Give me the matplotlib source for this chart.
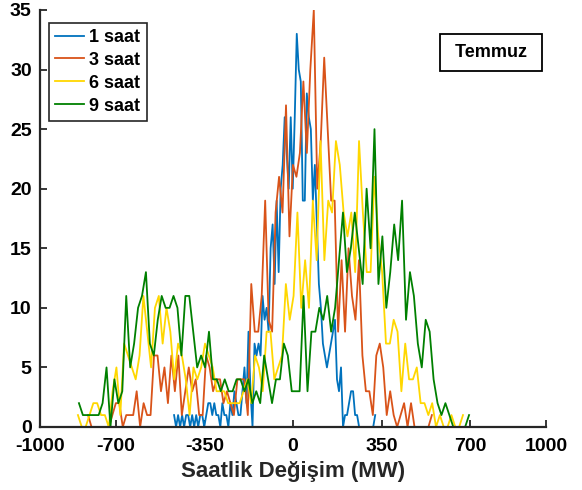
import numpy as np
import matplotlib
matplotlib.use("Agg")
from matplotlib import pyplot as plt

plt.rcParams['font.family'] = ['Liberation Sans', 'DejaVu Sans']
plt.rcParams['font.weight'] = 'bold'
plt.rcParams['axes.unicode_minus'] = False

# Saatlik değişim histogramları (Temmuz), her seri kendi aralığında eşit bölmeli
aralik_1 = (-470, 325)
saat_1 = [1, 0, 1, 0, 1, 0, 1, 1, 0, 1, 0, 1, 0, 1, 1, 0,
          1, 2, 2, 1, 2, 1, 1, 0, 2, 1, 1, 0, 2, 1, 3, 2, 1,
          1, 3, 5, 2, 8, 3, 0, 7, 6, 7, 6, 11, 9, 10, 8, 15, 17, 12, 19, 13,
          20, 22, 26, 23, 20, 26, 20, 26, 33, 30, 29, 19, 19, 28, 26, 25, 19,
          22, 17, 12, 10, 7, 6, 5, 6, 7, 8, 9, 4, 3, 5, 0, 1, 1, 2, 3, 3, 1,
          1, 0, 0, 0, 0, 0, 0, 0, 0, 1]

aralik_3 = (-810, 549)
saat_3 = [1, 0, 0, 0, 0, 0, 0, 1, 2, 2, 0, 1, 1, 1, 3, 0, 2, 1, 1, 6, 6,
          3, 5, 2, 6, 3, 6, 1, 3, 5, 3, 4, 1, 1, 6, 5, 3, 4, 4, 2, 3, 2,
          1, 4, 4, 4, 1, 12, 8, 8, 11, 19, 9, 8, 18, 21, 18, 27, 16, 22,
          21, 23, 29, 23, 30, 35, 20, 24, 31, 25, 19, 19, 8, 14, 8, 15, 11,
          9, 14, 6, 3, 3, 1, 6, 7, 5, 1, 3, 1, 0, 1, 2, 0, 2, 0, 0, 0, 0,
          0, 1]

aralik_6 = (-850, 672)
saat_6 = [1, 0, 0, 1, 2, 2, 1, 1, 0, 3, 5, 1, 7, 6, 5, 4, 6, 11, 8, 5,
          10, 11, 7, 10, 8, 4, 7, 6, 4, 1, 5, 4, 5, 7, 6, 5, 3, 3, 3, 2,
          2, 2, 2, 3, 4, 2, 6, 5, 3, 8, 8, 4, 5, 6, 12, 9, 11, 18, 10, 14,
          10, 19, 14, 24, 14, 19, 18, 24, 22, 18, 16, 18, 13, 24, 18, 13,
          13, 21, 16, 13, 7, 7, 9, 8, 3, 7, 4, 4, 5, 2, 2, 1, 2, 0, 1, 0,
          0, 1, 0, 0, 1]

aralik_9 = (-846, 696)
saat_9 = [2, 1, 1, 1, 1, 1, 2, 5, 0, 4, 2, 3, 11, 5, 7, 10, 11, 13, 7,
          6, 9, 11, 10, 10, 11, 10, 6, 11, 11, 8, 5, 6, 5, 8, 4, 4, 3, 4,
          3, 3, 4, 4, 3, 4, 2, 3, 2, 6, 4, 2, 4, 4, 7, 6, 3, 3, 3, 11, 3,
          8, 8, 10, 9, 11, 8, 10, 14, 18, 13, 15, 18, 15, 12, 20, 15, 25,
          12, 16, 10, 13, 17, 14, 19, 9, 13, 11, 7, 5, 9, 8, 4, 2, 1, 2,
          1, 0, 0, 0, 0, 1]

seriler = [("1 saat", aralik_1, saat_1, "#0072BD"),
           ("3 saat", aralik_3, saat_3, "#D95319"),
           ("6 saat", aralik_6, saat_6, "#FFD700"),
           ("9 saat", aralik_9, saat_9, "#008000")]

fig = plt.figure(figsize=(5.82, 4.90), dpi=100)
ax = fig.add_axes([0.0687, 0.1286, 0.8694, 0.851])

for ad, (x0, x1), veri, renk in seriler:
    x = np.linspace(x0, x1, len(veri))
    ax.plot(x, veri, color=renk, linewidth=1.3, label=ad)

ax.set_xlim(-1000, 1000)
ax.set_ylim(0, 35)
ax.set_xticks([-1000, -700, -350, 0, 350, 700, 1000])
ax.set_yticks(range(0, 36, 5))
ax.tick_params(direction='in', labelsize=14, length=5, width=1.3, colors='#262626')
ax.tick_params(axis='x', pad=8)
ax.tick_params(axis='y', pad=6)
for t in ax.get_xticklabels() + ax.get_yticklabels():
    t.set_fontweight('bold')
    t.set_color('black')
ax.spines['top'].set_visible(False)
ax.spines['right'].set_visible(False)
for s in ['left', 'bottom']:
    ax.spines[s].set_linewidth(1.6)
    ax.spines[s].set_color('#262626')

ax.set_xlabel('Saatlik Değişim (MW)', fontsize=16, fontweight='bold', color='#262626', labelpad=4)

leg = ax.legend(loc='upper left', bbox_to_anchor=(0.017, 0.97), fontsize=13,
                handlelength=1.6, handletextpad=0.3, borderpad=0.35,
                labelspacing=0.33, fancybox=False, framealpha=1, borderaxespad=0)
leg.get_frame().set_edgecolor('#262626')
leg.get_frame().set_linewidth(1.2)
for t in leg.get_texts():
    t.set_fontweight('bold')

ax.text(0.891, 0.899, ' Temmuz ', transform=ax.transAxes, ha='center', va='center',
        fontsize=13, fontweight='bold',
        bbox=dict(boxstyle='square,pad=0.55', facecolor='white', edgecolor='black', linewidth=1.3))

fig.savefig('out.png', dpi=100)
